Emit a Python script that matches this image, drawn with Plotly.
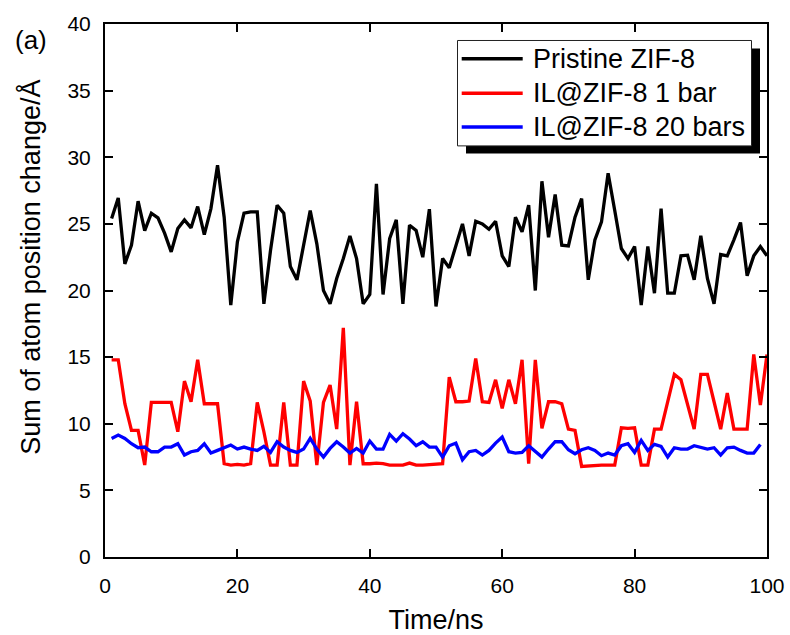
import plotly.graph_objects as go

# ---------------- data ----------------
time_black = list(range(1, 101))
pristine = [25.4, 26.95, 22.0, 23.4, 26.7, 24.5, 25.8, 25.45, 24.3, 22.9,
            24.65, 25.3, 24.7, 26.3, 24.2, 26.15, 29.4, 25.5, 18.9, 23.65,
            25.8, 25.9, 25.9, 19.0, 23.0, 26.4, 25.8, 21.8, 20.8, 23.3,
            26.0, 23.5, 20.0, 19.0, 20.9, 22.4, 24.1, 22.4, 19.0, 19.7,
            28.0, 19.7, 23.9, 25.3, 19.0, 24.9, 24.5, 22.5, 26.1, 18.8,
            22.4, 21.7, 23.3, 25.0, 22.6, 25.2, 25.0, 24.6, 25.2, 22.6,
            21.8, 25.5, 24.4, 26.4, 20.0, 28.2, 24.0, 27.2, 23.4, 23.35,
            25.5, 26.9, 20.8, 23.8, 25.15, 28.8, 26.0, 23.15, 22.4, 23.3,
            18.9, 23.3, 19.8, 26.15, 19.8, 19.8, 22.6, 22.65, 20.8, 24.1,
            20.9, 19.0, 22.7, 22.6, 23.8, 25.1, 21.1, 22.6, 23.3, 22.6]

time_red = list(range(1, 101))
il_1bar = [14.8, 14.8, 11.5, 9.5, 9.5, 6.9, 11.6, 11.6, 11.6, 11.6,
           9.4, 13.2, 11.65, 14.8, 11.5, 11.5, 11.5, 7.0, 6.9, 6.95,
           6.9, 7.0, 11.6, 9.4, 6.9, 6.9, 11.6, 6.9, 6.9, 13.2,
           11.7, 6.9, 11.6, 12.9, 9.6, 17.2, 6.9, 11.65, 7.0, 7.0,
           7.05, 7.0, 6.9, 6.9, 6.9, 7.05, 6.9, 6.9, 6.95, 7.0,
           7.0, 13.5, 11.65, 11.65, 11.7, 14.9, 11.65, 11.6, 13.3, 11.15,
           13.3, 11.5, 14.8, 7.0, 14.8, 9.65, 11.65, 11.65, 11.5, 9.6,
           9.5, 6.8, 6.85, 6.9, 6.9, 6.9, 6.9, 9.7, 9.65, 9.7,
           6.9, 6.9, 9.6, 9.6, 11.65, 13.7, 13.3, 11.5, 9.6, 13.7,
           13.7, 11.65, 9.6, 12.3, 9.6, 9.6, 9.6, 15.2, 11.4, 15.2]

time_blue = list(range(1, 100))
il_20bars = [8.9, 9.15, 8.9, 8.5, 8.2, 8.25, 7.9, 7.9, 8.25, 8.25,
             8.5, 7.65, 7.9, 8.0, 8.5, 7.8, 8.0, 8.2, 8.4, 8.1,
             8.25, 8.1, 8.0, 8.3, 7.85, 8.65, 8.25, 8.0, 7.85, 8.1,
             8.9, 8.1, 7.5, 8.15, 8.65, 8.25, 7.8, 8.15, 7.8, 8.7,
             8.1, 8.1, 9.2, 8.7, 9.25, 8.85, 8.35, 8.65, 8.25, 8.25,
             7.5, 8.35, 8.55, 7.3, 7.9, 8.0, 7.65, 8.0, 8.55, 9.0,
             7.9, 7.8, 7.85, 8.35, 7.9, 7.5, 8.1, 8.65, 8.65, 8.05,
             7.75, 8.05, 8.2, 8.0, 7.6, 7.8, 7.65, 8.35, 8.5, 7.85,
             8.75, 8.0, 8.45, 8.3, 7.5, 8.2, 8.1, 8.1, 8.35, 8.2,
             8.1, 8.2, 7.65, 8.2, 8.25, 8.0, 7.8, 7.8, 8.45]

series_names = ["Pristine ZIF-8", "IL@ZIF-8 1 bar", "IL@ZIF-8 20 bars"]
series_colors = ["#000000", "#ff0000", "#0000ff"]

x_ticks = [0, 20, 40, 60, 80, 100]
y_ticks = [0, 5, 10, 15, 20, 25, 30, 35, 40]

# ---------------- layout geometry ----------------
W, H = 790, 635
L, R, T, B = 105, 23, 23.5, 78
PW, PH = W - L - R, H - T - B
FONT = "Arial, Liberation Sans, sans-serif"


def px_x(px):
    return (px - L) / PW


def px_y(py):
    return (H - B - py) / PH


fig = go.Figure()
for xs, ys, name, col in zip([time_black, time_red, time_blue],
                             [pristine, il_1bar, il_20bars],
                             series_names, series_colors):
    fig.add_trace(go.Scatter(x=xs, y=ys, mode="lines", name=name,
                             line=dict(color=col, width=3.3),
                             showlegend=False))

axis_common = dict(showline=True, linecolor="black", linewidth=2,
                   mirror="ticks", ticks="inside", ticklen=8, tickwidth=2,
                   tickcolor="black", showgrid=False, zeroline=False,
                   automargin=False,
                   tickfont=dict(family=FONT, size=21, color="black"))

fig.update_xaxes(range=[0, 100], tickvals=x_ticks, ticklabelstandoff=9,
                 title=dict(text="Time/ns", font=dict(family=FONT, size=27, color="black"),
                            standoff=14),
                 **axis_common)
fig.update_yaxes(range=[0, 40], tickvals=y_ticks, ticklabelstandoff=8,
                 **axis_common)

shapes = []
annotations = []

# legend shadow and box
shapes.append(dict(type="rect", xref="paper", yref="paper",
                   x0=px_x(466), x1=px_x(760), y0=px_y(153), y1=px_y(48),
                   fillcolor="black", line=dict(width=0), layer="above"))
shapes.append(dict(type="rect", xref="paper", yref="paper",
                   x0=px_x(457.5), x1=px_x(751.5), y0=px_y(145.5), y1=px_y(40),
                   fillcolor="white", line=dict(color="#222222", width=1), layer="above"))
row_y = [58.3, 92.7, 126.7]
for name, col, ry in zip(series_names, series_colors, row_y):
    shapes.append(dict(type="line", xref="paper", yref="paper",
                       x0=px_x(461.7), x1=px_x(522.7), y0=px_y(ry), y1=px_y(ry),
                       line=dict(color=col, width=3.5), layer="above"))
    annotations.append(dict(text=name, xref="paper", yref="paper",
                            x=px_x(531), y=px_y(ry), xanchor="left", yanchor="middle",
                            showarrow=False,
                            font=dict(family=FONT, size=27, color="black")))

# y-axis title
annotations.append(dict(text="Sum of atom position change/Å", xref="paper", yref="paper",
                        x=px_x(31), y=px_y(267.5), xanchor="center", yanchor="middle",
                        textangle=-90, showarrow=False,
                        font=dict(family=FONT, size=27, color="black")))
# panel label
annotations.append(dict(text="(a)", xref="paper", yref="paper",
                        x=px_x(31), y=px_y(40), xanchor="center", yanchor="middle",
                        showarrow=False,
                        font=dict(family=FONT, size=26, color="black")))

fig.update_layout(width=W, height=H,
                  margin=dict(l=L, r=R, t=T, b=B, pad=0),
                  plot_bgcolor="white", paper_bgcolor="white",
                  shapes=shapes, annotations=annotations,
                  showlegend=False)

fig.write_html("out.html")
